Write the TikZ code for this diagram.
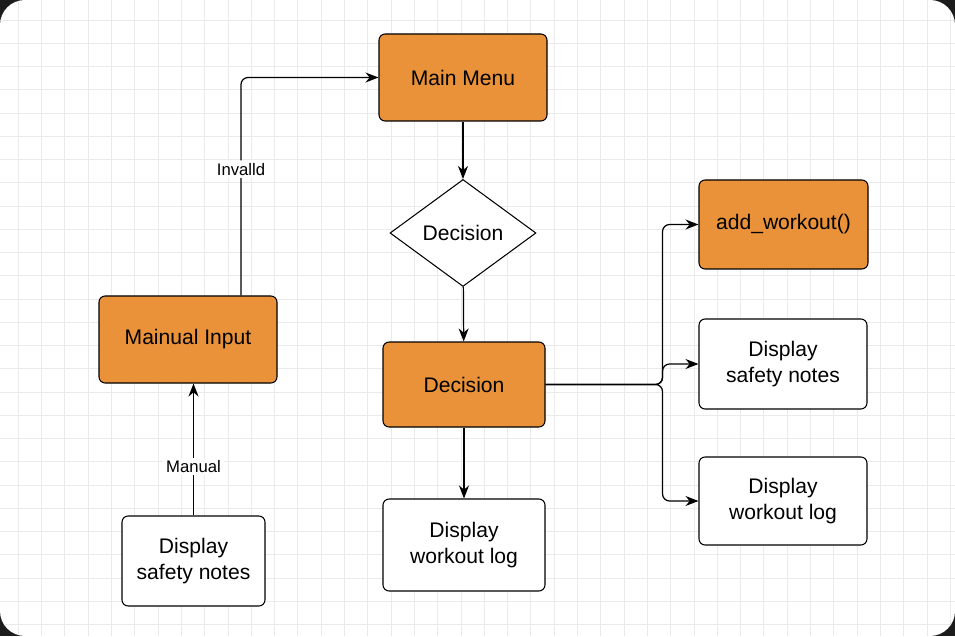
\documentclass[tikz,border=0pt]{standalone}
\usepackage{fontspec}
\setmainfont{Liberation Sans}
\usetikzlibrary{shapes.geometric,arrows.meta}
\definecolor{boxorange}{HTML}{E9923A}
\definecolor{gridgray}{HTML}{EAEAEA}
\definecolor{frameblack}{HTML}{1C1C1C}
\tikzset{
  stepbox/.style={draw=black, line width=0.6pt, rounded corners=3.5pt, align=center,
    font=\fontsize{12}{14.4}\selectfont, inner sep=2pt},
  orangebox/.style={stepbox, fill=boxorange},
  whitebox/.style={stepbox, fill=white},
  decisionshape/.style={diamond, draw=black, line width=0.6pt, fill=white, inner sep=0pt,
    minimum width=2.92cm, minimum height=2.14cm, font=\fontsize{12}{14.4}\selectfont},
  conn/.style={draw=black, line width=0.7pt, -{Stealth[length=2.6mm,width=2mm]}},
  edgelabel/.style={fill=white, inner sep=1.5pt, font=\fontsize{9.5}{11}\selectfont},
  gridline/.style={draw=gridgray, line width=0.5pt}
}
\begin{document}
\begin{tikzpicture}
            \useasboundingbox (0,0) rectangle (19.1,12.72);
            
            % Drawing frame and grid
            \fill[frameblack] (0,0) rectangle (19.1,12.72);
            \fill[white, rounded corners=0.5cm] (0,0) rectangle (19.1,12.72);
            \begin{scope}
              \clip[rounded corners=0.5cm] (0,0) rectangle (19.1,12.72);
              \foreach \i in {0,...,40} \draw[gridline] ({0.366+0.466*\i},0) -- ++(0,12.72);%
              \foreach \j in {0,...,27} \draw[gridline] (0,{12.32-0.465*\j}) -- ++(19.1,0);%
            \end{scope}
            
            % Drawing boxes of the middle column
            \node[orangebox, minimum width=3.36cm, minimum height=1.74cm] (mainmenu) at (9.26,11.17) {Main Menu};%
            \node[decisionshape] (choice) at (9.26,8.06) {Decision};%
            \node[orangebox, minimum width=3.24cm, minimum height=1.70cm] (decision) at (9.28,5.03) {Decision};%
            \node[whitebox, minimum width=3.24cm, minimum height=1.84cm] (logmid) at (9.28,1.82) {Display\\workout log};%
            
            % Drawing boxes of the left column
            \node[orangebox, minimum width=3.56cm, minimum height=1.74cm] (manualinput) at (3.76,5.93) {Mainual Input};%
            \node[whitebox, minimum width=2.86cm, minimum height=1.80cm] (notesleft) at (3.87,1.50) {Display\\safety notes};%
            
            % Drawing boxes of the right column
            \node[orangebox, minimum width=3.38cm, minimum height=1.78cm] (addworkout) at (15.67,8.23) {add\_workout()};%
            \node[whitebox, minimum width=3.36cm, minimum height=1.80cm] (notesright) at (15.66,5.44) {Display\\safety notes};%
            \node[whitebox, minimum width=3.36cm, minimum height=1.76cm] (logright) at (15.66,2.70) {Display\\workout log};%
            
            % Drawing connectors
            \draw[conn] (mainmenu) -- (choice);%
            \draw[conn] (choice) -- (decision);%
            \draw[conn] (decision) -- (logmid);%
            \draw[conn] (notesleft.north) -- (notesleft.north |- manualinput.south)
              node[edgelabel, pos=0.37] {Manual};%
            \draw[conn, rounded corners=4pt] ([xshift=1.06cm]manualinput.north) |- (mainmenu.west)
              node[edgelabel, pos=0.29] {Invalld};%
            \draw[conn, rounded corners=4pt] (decision.east) -- ++(2.34,0) |- (addworkout.west);%
            \draw[conn, rounded corners=4pt] (decision.east) -- ++(2.34,0) |- (notesright.west);%
            \draw[conn, rounded corners=4pt] (decision.east) -- ++(2.34,0) |- (logright.west);%
        \end{tikzpicture}
\end{document}
